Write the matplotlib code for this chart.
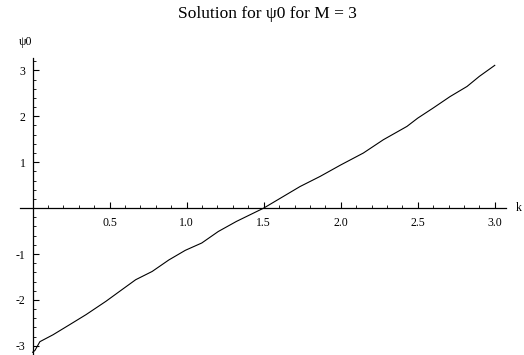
import matplotlib
matplotlib.use("Agg")
import matplotlib.pyplot as plt
from matplotlib.ticker import MultipleLocator, FixedLocator

plt.rcParams['font.family'] = ['Liberation Serif', 'DejaVu Serif']

# Data
k = [0.0, 0.015, 0.047, 0.132, 0.24, 0.347, 0.476, 0.562, 0.669, 0.776,
     0.884, 0.991, 1.098, 1.205, 1.323, 1.5, 1.736, 1.866, 2.0, 2.147,
     2.277, 2.43, 2.5, 2.60, 2.71, 2.82, 2.90, 3.0]
psi0 = [-3.14, -3.10, -2.91, -2.76, -2.54, -2.32, -2.03, -1.82, -1.56, -1.38,
        -1.13, -0.92, -0.76, -0.51, -0.29, 0.0, 0.47, 0.69, 0.94, 1.20,
        1.49, 1.78, 1.96, 2.18, 2.43, 2.65, 2.87, 3.11]

xticks = [0.5, 1.0, 1.5, 2.0, 2.5, 3.0]
xticklabels = ["0.5", "1.0", "1.5", "2.0", "2.5", "3.0"]
yticks = [-3, -2, -1, 1, 2, 3]
yticklabels = ["-3", "-2", "-1", "1", "2", "3"]

W, H = 524, 355
fig = plt.figure(figsize=(W / 100, H / 100), dpi=100)
ax = fig.add_axes([20 / W, 0.0, 486 / W, (H - 58) / H])

ax.plot(k, psi0, color='black', linewidth=0.8)

ax.set_xlim(-0.082, 3.073)
ax.set_ylim(-3.20, 3.27)

for s in ['top', 'right']:
    ax.spines[s].set_visible(False)
ax.spines['left'].set_position(('data', 0))
ax.spines['bottom'].set_position(('data', 0))
for s in ['left', 'bottom']:
    ax.spines[s].set_linewidth(0.9)

ax.xaxis.set_major_locator(FixedLocator(xticks))
ax.set_xticklabels(xticklabels)
ax.xaxis.set_minor_locator(MultipleLocator(0.1))
ax.yaxis.set_major_locator(FixedLocator(yticks))
ax.set_yticklabels(yticklabels)
ax.yaxis.set_minor_locator(MultipleLocator(0.2))

ax.tick_params(axis='both', which='major', direction='in', length=4,
               width=0.8, labelsize=8.5)
ax.tick_params(axis='both', which='minor', direction='in', length=2, width=0.6)
ax.tick_params(axis='x', which='major', pad=6.5)
ax.tick_params(axis='y', which='major', pad=5)

fig.text(26 / W, 1 - 42 / H, "ψ0", ha='center', va='center', fontsize=8.5)
fig.text(516 / W, 1 - 208 / H, "k", ha='left', va='center', fontsize=8.5)
fig.text(267 / W, 1 - 14 / H, "Solution for ψ0 for M = 3", ha='center',
         va='center', fontsize=12.5)

fig.savefig("out.png", dpi=100)
